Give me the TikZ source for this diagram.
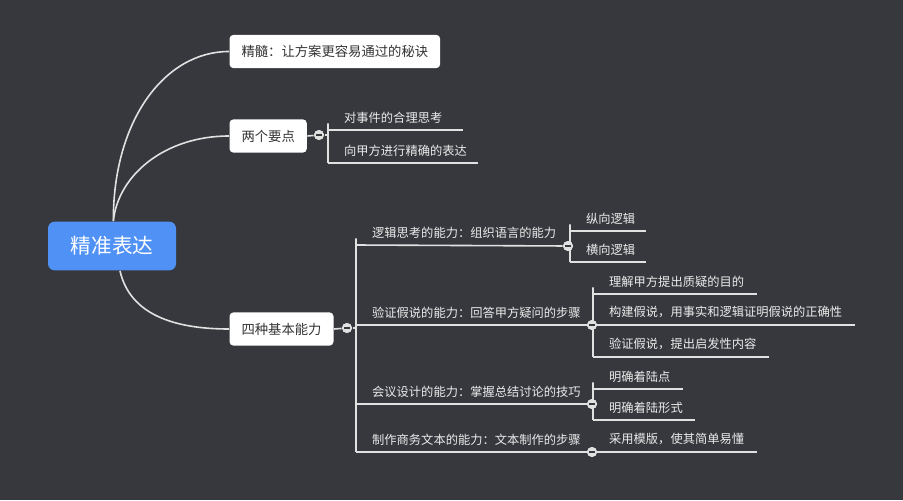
\documentclass[tikz,border=0pt]{standalone}
\usepackage{fontspec}
\newfontfamily\cjk{Noto Sans CJK SC}
\definecolor{bgdark}{RGB}{54,56,61}
\definecolor{rootblue}{RGB}{80,145,245}
\definecolor{linegray}{RGB}{225,225,225}
\tikzset{every picture/.style={line width=0.75pt}}
\tikzset{
  rootbox/.style={fill=rootblue,rounded corners=5pt,text=white,font=\cjk\fontsize{15.5}{18}\selectfont,minimum width=96pt,minimum height=36.5pt,inner sep=0pt},
  topicbox/.style={fill=white,rounded corners=3pt,text=black!80,font=\cjk\fontsize{10}{12}\selectfont,minimum height=25pt,inner xsep=9pt,inner ysep=0pt},
  subtext/.style={anchor=south west,text=white!92!black,font=\cjk\fontsize{9.2}{11}\selectfont,inner sep=0.75pt},
  foldmark/.style={circle,fill=linegray,minimum size=7.5pt,inner sep=0pt,path picture={\draw[bgdark,line width=0.9pt] ([xshift=-2pt]path picture bounding box.center) -- ([xshift=2pt]path picture bounding box.center);}},
  conn/.style={draw=linegray,line width=1.2pt},
  uline/.style={draw=linegray,line width=1.2pt},
}
\begin{document}
\begin{tikzpicture}[x=0.75pt,y=0.75pt,yscale=-1,xscale=1]
\fill[bgdark] (0,0) rectangle (903,500);
\useasboundingbox (0,0) rectangle (903,500);

% Root
\node[rootbox] (root) at (112,246) {精准表达};
% Main topics
\node[topicbox,anchor=west] (jingsui) at (229,51.5) {精髓：让方案更容易通过的秘诀};
\node[topicbox,anchor=west] (liangge) at (229,136) {两个要点};
\node[topicbox,anchor=west] (sizhong) at (229,329) {四种基本能力};

% Curves from root
\draw[conn] ([xshift=1pt]root.north) .. controls (113,120) and (165,51.5) .. (jingsui.west);
\draw[conn] ([xshift=1pt]root.north) .. controls (118,175) and (165,136) .. (liangge.west);
\draw[conn] ([xshift=6pt]root.south) .. controls (130,315) and (175,329) .. (sizhong.west);

% Fold marks
\node[foldmark] (f1) at (319,135) {};
\node[foldmark] (f2) at (347,328) {};
\node[foldmark] (f3) at (568,246) {};
\node[foldmark] (f4) at (592,325) {};
\node[foldmark] (f5) at (592,404) {};
\node[foldmark] (f6) at (592,452) {};
\draw[conn] (liangge.east) -- (f1);
\draw[conn] (sizhong.east) -- (f2);

% Underline start points
\coordinate (a1) at (328,130);  \coordinate (a2) at (328,163);
\coordinate (b1) at (356,245);  \coordinate (b2) at (356,325);
\coordinate (b3) at (356,404);  \coordinate (b4) at (356,452);
\coordinate (c1) at (570,231);  \coordinate (c2) at (570,262);
\coordinate (d1) at (593,294);  \coordinate (d2) at (593,325);  \coordinate (d3) at (593,357);
\coordinate (e1) at (593,389);  \coordinate (e2) at (593,420);
\coordinate (g1) at (593,452);

% Sub texts
\node[subtext] (a1t) at ([xshift=11pt,yshift=-4pt]a1) {对事件的合理思考};
\node[subtext] (a2t) at ([xshift=11pt,yshift=-4pt]a2) {向甲方进行精确的表达};
\node[subtext] (b1t) at ([xshift=11pt,yshift=-4pt]b1) {逻辑思考的能力：组织语言的能力};
\node[subtext] (b2t) at ([xshift=11pt,yshift=-4pt]b2) {验证假说的能力：回答甲方疑问的步骤};
\node[subtext] (b3t) at ([xshift=11pt,yshift=-4pt]b3) {会议设计的能力：掌握总结讨论的技巧};
\node[subtext] (b4t) at ([xshift=11pt,yshift=-4pt]b4) {制作商务文本的能力：文本制作的步骤};
\node[subtext] (c1t) at ([xshift=11pt,yshift=-4pt]c1) {纵向逻辑};
\node[subtext] (c2t) at ([xshift=11pt,yshift=-4pt]c2) {横向逻辑};
\node[subtext] (d1t) at ([xshift=11pt,yshift=-4pt]d1) {理解甲方提出质疑的目的};
\node[subtext] (d2t) at ([xshift=11pt,yshift=-4pt]d2) {构建假说，用事实和逻辑证明假说的正确性};
\node[subtext] (d3t) at ([xshift=11pt,yshift=-4pt]d3) {验证假说，提出启发性内容};
\node[subtext] (e1t) at ([xshift=11pt,yshift=-4pt]e1) {明确着陆点};
\node[subtext] (e2t) at ([xshift=11pt,yshift=-4pt]e2) {明确着陆形式};
\node[subtext] (g1t) at ([xshift=11pt,yshift=-4pt]g1) {采用模版，使其简单易懂};

% Underlines
\draw[uline] (a1) -- (463,130);
\draw[uline] (a2) -- (478,163);
\draw[uline] (b1) -- (f3);
\draw[uline] (b2) -- (f4);
\draw[uline] (b3) -- (f5);
\draw[uline] (b4) -- (f6);
\draw[uline] (c1) -- (646,231);
\draw[uline] (c2) -- (646,262);
\draw[uline] (d1) -- (757,294);
\draw[uline] (d2) -- (855,325);
\draw[uline] (d3) -- (769,357);
\draw[uline] (e1) -- (683,389);
\draw[uline] (e2) -- (695,420);
\draw[uline] (g1) -- (757,452);

% Brackets
\draw[conn] (f1) -- (328,135);
\draw[conn,rounded corners=5pt] (328,135) |- (a1);
\draw[conn,rounded corners=5pt] (328,135) |- (a2);
\draw[conn] (f2) -- (356,328);
\draw[conn,rounded corners=5pt] (356,328) |- (b1);
\draw[conn,rounded corners=5pt] (356,328) |- (b4);
\draw[conn,rounded corners=5pt] (570,246) |- (c1);
\draw[conn,rounded corners=5pt] (570,246) |- (c2);
\draw[conn,rounded corners=5pt] (593,325) |- (d1);
\draw[conn,rounded corners=5pt] (593,325) |- (d3);
\draw[conn,rounded corners=5pt] (593,404) |- (e1);
\draw[conn,rounded corners=5pt] (593,404) |- (e2);
% redraw fold marks on top
\foreach \f in {f1,f2,f3,f4,f5,f6} \node[foldmark] at (\f) {};
\end{tikzpicture}
\end{document}
